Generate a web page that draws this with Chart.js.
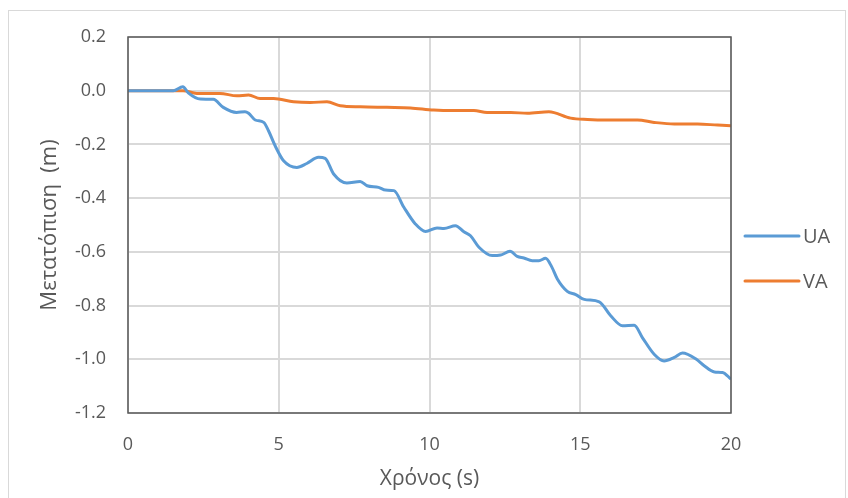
<!DOCTYPE html>
<html>
<head>
<meta charset="utf-8">
<script src="https://cdn.jsdelivr.net/npm/chart.js@4"></script>
<style>
  html, body { margin: 0; padding: 0; background: #ffffff; }
  canvas { display: block; }
</style>
</head>
<body>
<canvas id="chart" width="848" height="498"></canvas>
<script>
// ---- Data ----
const seriesNames = ['UA', 'VA'];

const timeUA = [0, 1.5, 1.82, 2.0, 2.4, 2.83, 3.16, 3.6, 3.88, 4.0, 4.22, 4.5, 4.66, 4.88, 5.16, 5.6, 5.93, 6.32, 6.54, 6.82, 7.26, 7.7, 7.93, 8.31, 8.54, 8.82, 9.15, 9.53, 9.87, 10.25, 10.48, 10.86, 11.14, 11.36, 11.64, 12.08, 12.36, 12.67, 12.91, 13.13, 13.41, 13.63, 13.85, 14.05, 14.24, 14.57, 14.85, 15.13, 15.63, 16.01, 16.4, 16.79, 17.06, 17.45, 17.78, 18.12, 18.39, 18.84, 19.11, 19.45, 19.72, 20.0];
const valuesUA = [0, 0, 0.015, -0.008, -0.031, -0.032, -0.062, -0.081, -0.078, -0.084, -0.109, -0.118, -0.149, -0.205, -0.261, -0.286, -0.271, -0.248, -0.252, -0.31, -0.344, -0.338, -0.354, -0.36, -0.37, -0.372, -0.434, -0.496, -0.524, -0.511, -0.513, -0.503, -0.525, -0.54, -0.583, -0.614, -0.612, -0.598, -0.617, -0.623, -0.633, -0.633, -0.624, -0.655, -0.701, -0.747, -0.759, -0.777, -0.786, -0.838, -0.875, -0.873, -0.919, -0.981, -1.006, -0.993, -0.977, -0.999, -1.024, -1.047, -1.049, -1.074];

const timeVA = [0, 1.83, 2.28, 3.05, 3.61, 4.0, 4.38, 4.83, 5.49, 6.05, 6.6, 7.04, 7.71, 8.59, 9.37, 10.14, 10.81, 11.47, 11.91, 12.69, 13.25, 13.96, 14.68, 15.24, 15.9, 16.9, 17.45, 18.12, 18.89, 19.56, 20];
const valuesVA = [0, 0, -0.010, -0.010, -0.019, -0.016, -0.029, -0.029, -0.041, -0.044, -0.041, -0.056, -0.06, -0.062, -0.064, -0.072, -0.074, -0.074, -0.081, -0.081, -0.084, -0.078, -0.102, -0.107, -0.109, -0.109, -0.118, -0.124, -0.124, -0.128, -0.13];

const xTitle = 'Χρόνος (s)';
const yTitle = 'Μετατόπιση  (m)';

// ---- Styling ----
const FONT = '"Open Sans", "Noto Sans", sans-serif';
const TEXT = '#595959';
const GRID = '#D9D9D9';
const FRAME = '#595959';
const COLORS = ['#5B9BD5', '#ED7D31'];

function toPoints(xs, ys) { return xs.map((x, i) => ({ x: x, y: ys[i] })); }

const outerBorder = {
  id: 'outerBorder',
  beforeDraw(chart) {
    const ctx = chart.ctx;
    ctx.save();
    ctx.fillStyle = '#ffffff';
    ctx.fillRect(0, 0, chart.width, chart.height);
    ctx.strokeStyle = '#D9D9D9';
    ctx.lineWidth = 1;
    ctx.strokeRect(8.5, 10.5, chart.width - 11, chart.height + 20);
    ctx.restore();
  }
};

const plotFrame = {
  id: 'plotFrame',
  afterDatasetsDraw(chart) {
    const { left, top, right, bottom } = chart.chartArea;
    const ctx = chart.ctx;
    ctx.save();
    ctx.strokeStyle = FRAME;
    ctx.lineWidth = 1.5;
    ctx.strokeRect(left, top, right - left, bottom - top);
    ctx.restore();
  }
};

const sideLegend = {
  id: 'sideLegend',
  afterDraw(chart) {
    const ctx = chart.ctx;
    const area = chart.chartArea;
    const x0 = area.right + 14;
    const x1 = x0 + 54;
    const ys = [area.top + 199, area.top + 244];
    ctx.save();
    chart.data.datasets.forEach((ds, i) => {
      ctx.strokeStyle = ds.borderColor;
      ctx.lineWidth = 3;
      ctx.lineCap = 'round';
      ctx.beginPath();
      ctx.moveTo(x0, ys[i]);
      ctx.lineTo(x1, ys[i]);
      ctx.stroke();
      ctx.fillStyle = TEXT;
      ctx.font = '20px ' + FONT;
      ctx.textBaseline = 'middle';
      ctx.textAlign = 'left';
      ctx.fillText(ds.label, x1 + 4, ys[i] + 1);
    });
    ctx.restore();
  }
};

new Chart(document.getElementById('chart'), {
  type: 'line',
  data: {
    datasets: [
      {
        label: seriesNames[0],
        data: toPoints(timeUA, valuesUA),
        borderColor: COLORS[0],
        backgroundColor: COLORS[0],
        borderWidth: 3,
        pointRadius: 0,
        cubicInterpolationMode: 'monotone',
        fill: false
      },
      {
        label: seriesNames[1],
        data: toPoints(timeVA, valuesVA),
        borderColor: COLORS[1],
        backgroundColor: COLORS[1],
        borderWidth: 3,
        pointRadius: 0,
        cubicInterpolationMode: 'monotone',
        fill: false
      }
    ]
  },
  options: {
    responsive: false,
    animation: false,
    events: [],
    layout: { padding: { left: 8, top: 37, right: 117, bottom: 0 } },
    plugins: {
      legend: { display: false },
      tooltip: { enabled: false },
      title: { display: false }
    },
    scales: {
      x: {
        type: 'linear',
        min: 0,
        max: 20,
        ticks: {
          stepSize: 5,
          color: TEXT,
          padding: 21,
          font: { family: FONT, size: 18 },
          maxRotation: 0
        },
        grid: { color: GRID, lineWidth: 2, drawTicks: false },
        border: { display: false },
        title: {
          display: true,
          text: xTitle,
          color: TEXT,
          font: { family: FONT, size: 21 },
          padding: { top: 0, bottom: 6 }
        },
        afterFit(scale) { scale.height = 85; }
      },
      y: {
        type: 'linear',
        min: -1.2,
        max: 0.2,
        ticks: {
          stepSize: 0.2,
          color: TEXT,
          padding: 22,
          font: { family: FONT, size: 18 },
          callback: (v) => Number(v).toFixed(1)
        },
        grid: { color: GRID, lineWidth: 2, drawTicks: false },
        border: { display: false },
        title: {
          display: true,
          text: yTitle,
          color: TEXT,
          font: { family: FONT, size: 22 },
          padding: { top: 29, bottom: 0 }
        },
        afterFit(scale) { scale.width = 120; }
      }
    }
  },
  plugins: [outerBorder, plotFrame, sideLegend]
});
</script>
</body>
</html>
